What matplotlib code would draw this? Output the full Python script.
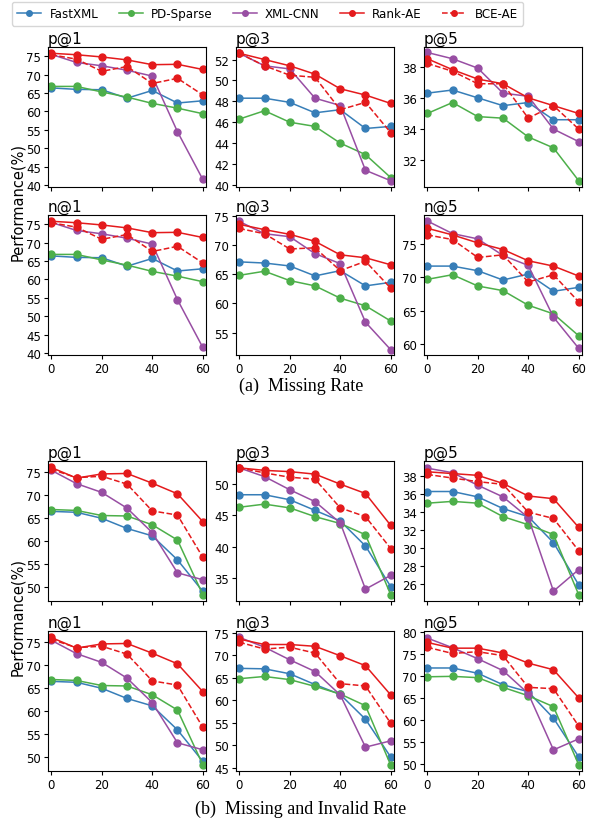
import matplotlib
matplotlib.use("Agg")
import matplotlib.pyplot as plt
from matplotlib.lines import Line2D
from matplotlib.ticker import MultipleLocator

rates = [0, 10, 20, 30, 40, 50, 60]
methods = ["FastXML", "PD-Sparse", "XML-CNN", "Rank-AE", "BCE-AE"]
colors = ["#377eb8", "#4daf4a", "#984ea3", "#e41a1c", "#e41a1c"]
styles = ["-", "-", "-", "-", "--"]

# (a) Missing Rate -- rows: FastXML, PD-Sparse, XML-CNN, Rank-AE, BCE-AE
miss_p1 = [
    [66.4, 66.0, 65.9, 63.6, 65.7, 62.3, 62.9],
    [66.8, 66.8, 65.3, 63.9, 62.2, 60.9, 59.4],
    [75.5, 73.3, 72.4, 71.2, 69.6, 54.5, 41.6],
    [75.8, 75.4, 74.8, 74.0, 72.7, 72.8, 71.4],
    [75.4, 74.2, 70.9, 72.2, 67.6, 69.0, 64.5],
]
miss_p3 = [
    [48.3, 48.3, 47.9, 46.9, 47.2, 45.4, 45.6],
    [46.3, 47.1, 46.0, 45.6, 44.0, 42.9, 40.7],
    [52.6, 51.4, 51.1, 48.3, 47.6, 41.4, 40.4],
    [52.6, 52.0, 51.4, 50.6, 49.2, 48.6, 47.8],
    [52.6, 51.4, 50.5, 50.3, 47.2, 47.9, 45.0],
]
miss_p5 = [
    [36.3, 36.5, 36.0, 35.5, 35.7, 34.6, 34.6],
    [35.0, 35.7, 34.8, 34.7, 33.5, 32.8, 30.7],
    [38.9, 38.5, 37.9, 36.3, 36.1, 34.0, 33.2],
    [38.5, 37.8, 37.2, 36.9, 36.0, 35.5, 35.0],
    [38.2, 37.7, 36.9, 36.9, 34.7, 35.5, 34.0],
]
miss_n1 = [
    [66.4, 66.0, 65.9, 63.6, 65.7, 62.3, 62.9],
    [66.8, 66.8, 65.3, 63.9, 62.2, 60.9, 59.4],
    [75.5, 73.3, 72.4, 71.2, 69.6, 54.5, 41.6],
    [75.8, 75.4, 74.8, 74.0, 72.7, 72.8, 71.4],
    [75.4, 74.2, 70.9, 72.2, 67.6, 69.0, 64.5],
]
miss_n3 = [
    [67.1, 66.9, 66.4, 64.7, 65.6, 63.0, 63.6],
    [64.8, 65.5, 63.9, 63.0, 60.9, 59.6, 57.0],
    [74.0, 71.9, 71.4, 68.5, 66.8, 56.8, 52.1],
    [73.5, 72.6, 71.8, 70.6, 68.3, 67.8, 66.6],
    [72.8, 71.9, 69.3, 69.5, 65.6, 67.2, 62.6],
]
miss_n5 = [
    [71.7, 71.7, 71.0, 69.6, 70.5, 67.9, 68.5],
    [69.7, 70.4, 68.7, 68.0, 65.8, 64.5, 61.2],
    [78.5, 76.6, 75.8, 73.3, 71.8, 64.0, 59.3],
    [77.4, 76.4, 75.2, 74.2, 72.5, 71.7, 70.2],
    [76.4, 75.7, 73.0, 73.4, 69.3, 70.4, 66.3],
]

# (b) Missing and Invalid Rate
inv_p1 = [
    [66.4, 66.2, 64.9, 62.7, 61.1, 55.9, 49.1],
    [66.8, 66.6, 65.5, 65.4, 63.5, 60.2, 48.4],
    [75.3, 72.4, 70.5, 67.1, 61.8, 53.1, 51.6],
    [75.9, 73.6, 74.5, 74.6, 72.5, 70.2, 64.2],
    [75.5, 73.7, 74.0, 72.3, 66.5, 65.6, 56.5],
]
inv_p3 = [
    [48.3, 48.3, 47.5, 45.8, 44.1, 40.1, 33.6],
    [46.3, 46.8, 46.2, 44.8, 43.7, 41.9, 32.3],
    [52.6, 51.2, 49.1, 47.2, 43.8, 33.2, 35.4],
    [52.6, 52.2, 52.0, 51.6, 50.0, 48.5, 43.4],
    [52.6, 51.8, 51.1, 50.8, 46.2, 44.8, 39.7],
]
inv_p5 = [
    [36.3, 36.3, 35.7, 34.4, 33.5, 30.6, 25.9],
    [35.0, 35.2, 35.0, 33.5, 32.6, 31.5, 24.8],
    [38.9, 38.4, 37.0, 35.7, 33.4, 25.2, 27.6],
    [38.5, 38.3, 38.1, 37.2, 35.8, 35.5, 32.3],
    [38.2, 37.8, 37.4, 37.1, 34.0, 33.3, 29.7],
]
inv_n1 = [
    [66.4, 66.2, 64.9, 62.7, 61.1, 55.9, 49.1],
    [66.8, 66.6, 65.5, 65.4, 63.5, 60.2, 48.4],
    [75.3, 72.4, 70.5, 67.1, 61.8, 53.1, 51.6],
    [75.9, 73.6, 74.5, 74.6, 72.5, 70.2, 64.2],
    [75.5, 73.7, 74.0, 72.3, 66.5, 65.6, 56.5],
]
inv_n3 = [
    [67.1, 67.0, 65.9, 63.5, 61.3, 55.8, 47.4],
    [64.8, 65.3, 64.6, 63.1, 61.4, 58.8, 45.6],
    [74.0, 71.8, 69.0, 66.4, 61.2, 49.6, 51.0],
    [73.6, 72.4, 72.4, 72.0, 69.9, 67.7, 61.2],
    [72.9, 71.4, 71.8, 70.5, 63.7, 63.2, 54.9],
]
inv_n5 = [
    [71.8, 71.8, 70.6, 68.0, 66.4, 60.4, 51.6],
    [69.8, 69.9, 69.6, 67.4, 65.5, 63.0, 49.8],
    [78.6, 76.4, 73.9, 71.2, 66.0, 53.2, 55.7],
    [77.6, 76.3, 76.3, 75.2, 72.9, 71.4, 65.0],
    [76.5, 75.1, 75.5, 74.6, 67.4, 67.1, 58.6],
]

# panel layout: (title, data, ylim, ytick step)
panels = [
    [("p@1", miss_p1, (39.5, 77.5), 5), ("p@3", miss_p3, (39.8, 53.2), 2), ("p@5", miss_p5, (30.3, 39.25), 2)],
    [("n@1", miss_n1, (39.5, 77.5), 5), ("n@3", miss_n3, (51.2, 75.1), 5), ("n@5", miss_n5, (58.3, 79.4), 5)],
    [("p@1", inv_p1, (47.0, 77.3), 5), ("p@3", inv_p3, (31.3, 53.7), 5), ("p@5", inv_p5, (24.1, 39.7), 2)],
    [("n@1", inv_n1, (47.0, 77.3), 5), ("n@3", inv_n3, (44.3, 75.4), 5), ("n@5", inv_n5, (48.4, 80.2), 5)],
]

W, H = 589, 829
fig = plt.figure(figsize=(W / 100, H / 100), dpi=100)

col_left = [48, 236, 424]
row_top = [48, 216, 462, 632]
ax_w, ax_h = 158, 140

for r, row in enumerate(panels):
    for c, (title, data, ylim, step) in enumerate(row):
        ax = fig.add_axes([col_left[c] / W, 1 - (row_top[r] + ax_h) / H, ax_w / W, ax_h / H])
        for i, name in enumerate(methods):
            ax.plot(rates, data[i], color=colors[i], linestyle=styles[i], marker="o",
                    markersize=5, linewidth=1.1, label=name)
        ax.set_xlim(-1.3, 61.3)
        ax.set_ylim(*ylim)
        ax.set_xticks([0, 20, 40, 60])
        ax.yaxis.set_major_locator(MultipleLocator(step))
        ax.tick_params(labelsize=8.5, length=3, pad=2)
        if r in (0, 2):
            ax.set_xticklabels([])
        ax.set_title(title, loc="left", fontsize=11, pad=3)

# shared y labels
fig.text(18 / W, 1 - 202 / H, "Performance(%)", rotation=90, ha="center", va="center", fontsize=10.5)
fig.text(18 / W, 1 - 617 / H, "Performance(%)", rotation=90, ha="center", va="center", fontsize=10.5)

# captions
fig.text(301 / W, 1 - 386 / H, "(a)  Missing Rate", ha="center", va="center",
         fontsize=13, family="Liberation Serif")
fig.text(301 / W, 1 - 809 / H, "(b)  Missing and Invalid Rate", ha="center", va="center",
         fontsize=13, family="Liberation Serif")

# legend
handles = [Line2D([], [], color=colors[i], linestyle=styles[i], marker="o", markersize=4,
                  linewidth=1.1) for i in range(len(methods))]
fig.legend(handles, methods, loc="upper left", bbox_to_anchor=(6 / W, 1 + 3 / H), ncol=5,
           fontsize=8.6, handlelength=2.0, columnspacing=1.7, handletextpad=0.7,
           borderpad=0.45, frameon=True)

fig.savefig("out.png", dpi=100)
